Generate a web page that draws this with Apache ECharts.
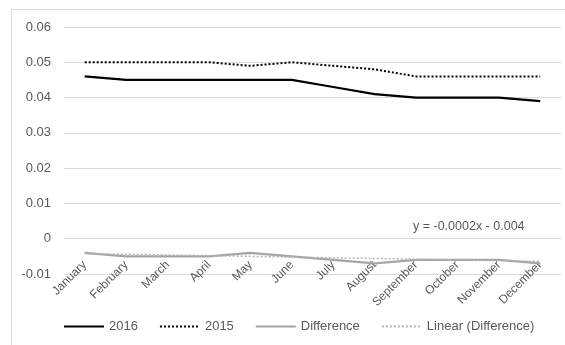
<!DOCTYPE html>
<html>
<head>
<meta charset="utf-8">
<script src="https://cdn.jsdelivr.net/npm/echarts@6/dist/echarts.min.js"></script>
<style>
  html, body { margin: 0; padding: 0; background: #fff; }
  #chart { width: 565px; height: 345px; }
</style>
</head>
<body>
<div id="chart"></div>
<script>
// Monthly rates for two years and their difference
const months = ['January', 'February', 'March', 'April', 'May', 'June',
  'July', 'August', 'September', 'October', 'November', 'December'];
const rate2016 = [0.046, 0.045, 0.045, 0.045, 0.045, 0.045, 0.043, 0.041, 0.040, 0.040, 0.040, 0.039];
const rate2015 = [0.050, 0.050, 0.050, 0.050, 0.049, 0.050, 0.049, 0.048, 0.046, 0.046, 0.046, 0.046];
const difference = [-0.004, -0.005, -0.005, -0.005, -0.004, -0.005, -0.006, -0.007, -0.006, -0.006, -0.006, -0.007];

// Linear trend of the difference series: y = slope * x + intercept (x = 1..12)
const trendSlope = -0.0002;
const trendIntercept = -0.004;
const trendLabel = 'y = -0.0002x - 0.004';

const yTicks = { min: -0.01, max: 0.06, interval: 0.01 };

// Straight trend line: only the two end points are needed
const trendData = months.map((m, i) =>
  (i === 0 || i === months.length - 1) ? trendSlope * (i + 1) + trendIntercept : null);

const font = 'Liberation Sans, Arial, sans-serif';
const textColor = '#595959';

const chart = echarts.init(document.getElementById('chart'), null, { renderer: 'canvas' });
chart.setOption({
  animation: false,
  backgroundColor: '#fff',
  textStyle: { fontFamily: font },
  graphic: [
    {
      type: 'rect',
      shape: { x: 11.5, y: 9.5, width: 600, height: 400 },
      style: { fill: 'none', stroke: '#d9d9d9', lineWidth: 1 },
      silent: true, z: 0
    },
    {
      type: 'text',
      left: 413, top: 220,
      style: { text: trendLabel, fill: textColor, font: '12.5px ' + font },
      z: 10
    }
  ],
  grid: { left: 64, right: 4, top: 27, bottom: 71 },
  legend: {
    left: 63, top: 320, padding: 0,
    itemWidth: 40, itemHeight: 14, itemGap: 21,
    itemStyle: { opacity: 0 },
    textStyle: { color: textColor, fontSize: 13, fontFamily: font },
    data: ['2016', '2015', 'Difference', 'Linear (Difference)']
  },
  xAxis: {
    type: 'category',
    data: months,
    boundaryGap: true,
    axisLine: { show: false, onZero: true },
    axisTick: { show: false },
    axisLabel: {
      rotate: 45, align: 'right', verticalAlign: 'middle',
      color: textColor, fontSize: 12, fontFamily: font, margin: -11, interval: 0
    }
  },
  yAxis: {
    type: 'value',
    min: yTicks.min, max: yTicks.max, interval: yTicks.interval,
    axisLine: { show: false },
    axisTick: { show: false },
    axisLabel: {
      color: textColor, fontSize: 13, fontFamily: font, margin: 13,
      formatter: v => String(+v.toFixed(2))
    },
    splitLine: { lineStyle: { color: '#d9d9d9', width: 1 } }
  },
  series: [
    {
      name: '2016', type: 'line', data: rate2016,
      symbol: 'none',
      lineStyle: { color: '#000', width: 2.25 },
      itemStyle: { color: '#000' }
    },
    {
      name: '2015', type: 'line', data: rate2015,
      symbol: 'none',
      lineStyle: { color: '#000', width: 2, type: [2, 2], cap: 'butt' },
      itemStyle: { color: '#000' }
    },
    {
      name: 'Difference', type: 'line', data: difference,
      symbol: 'none',
      lineStyle: { color: '#A5A5A5', width: 2.25 },
      itemStyle: { color: '#A5A5A5' }
    },
    {
      name: 'Linear (Difference)', type: 'line', data: trendData,
      connectNulls: true,
      symbol: 'none', z: 5,
      lineStyle: { color: '#B4B4B4', width: 1.5, type: [2, 2], cap: 'butt' },
      itemStyle: { color: '#B4B4B4' }
    }
  ]
});
</script>
</body>
</html>
